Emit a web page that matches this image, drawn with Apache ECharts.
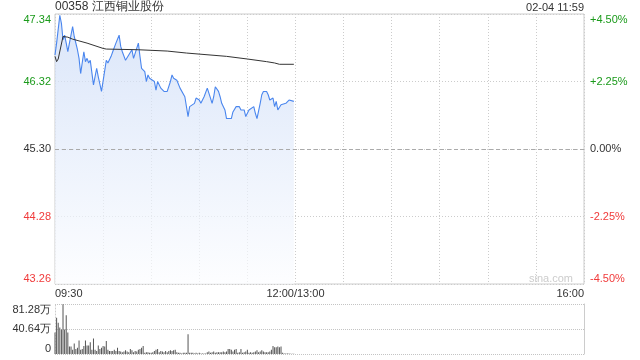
<!DOCTYPE html>
<html><head><meta charset="utf-8">
<script src="https://cdn.jsdelivr.net/npm/echarts@6/dist/echarts.min.js"></script>
<style>html,body{margin:0;padding:0;background:#fff}#c{width:640px;height:360px}</style>
</head><body><div id="c"></div>
<script>
const stockTitle = '00358 江西铜业股份';
const stampText = '02-04 11:59';
const watermark = 'sina.com';
const prevClose = 45.30;
const priceTicks = [43.26, 44.28, 45.30, 46.32, 47.34];
const pctTicks = [-4.5, -2.25, 0, 2.25, 4.5];
const volTicks = [0, 40.64, 81.28];
const volTickLabels = ['0', '40.64万', '81.28万'];
const timeTickPos = [0, 150, 330];
const timeTickLabels = ['09:30', '12:00/13:00', '16:00'];

const priceMinutes = [0,1,3,4,5,6,7,8,9,11,12,13,14,15,16,18,19,20,21,22,23,24,26,27,29,30,32,33,35,36,37,38,40,41,42,44,46,48,49,50,52,53,54,56,57,58,59,60,62,63,64,66,68,69,70,72,73,74,76,78,79,81,83,84,85,87,88,90,91,93,94,95,97,98,99,100,102,103,104,106,107,110,111,113,115,116,118,119,121,122,124,125,126,128,129,130,132,133,134,136,137,138,139,141,142,144,146,147,149];
const priceValues = [46.72,46.90,47.32,47.20,46.95,47.02,46.90,46.77,46.90,47.15,47.00,46.97,46.80,46.67,46.44,46.77,46.62,46.67,46.60,46.64,46.62,46.27,46.52,46.39,46.17,46.14,46.64,46.60,46.70,46.77,46.80,46.90,47.02,46.85,46.77,46.64,46.72,46.80,46.67,46.64,46.90,46.70,46.52,46.47,46.32,46.42,46.37,46.39,46.32,46.19,46.32,46.22,46.17,46.19,46.17,46.32,46.42,46.37,46.34,46.22,46.19,46.09,45.79,45.94,45.91,45.99,46.07,46.04,45.99,46.09,46.07,46.22,46.07,45.99,46.09,46.24,46.17,46.09,45.99,45.89,45.76,45.76,45.86,45.94,45.94,45.89,45.89,45.79,45.89,45.91,45.94,45.84,45.76,45.99,46.12,46.17,46.17,46.12,46.04,46.07,45.94,46.02,45.89,45.97,45.97,45.99,46.04,46.07,46.02];

const avgMinutes = [0,1,2,5,8,11,20,30,32,52,70,82,83,107,120,132,137,140,149];
const avgValues = [46.70,46.62,46.66,47.00,46.99,46.96,46.90,46.82,46.81,46.80,46.78,46.75,46.72,46.70,46.66,46.62,46.60,46.58,46.58];

const volumeValues = [35,59,51,43,40,81,40,63,35,12,12,7,17,8,10,22,7,8,13,22,14,14,19,7,25,7,5,14,8,10,13,12,21,7,5,5,5,7,5,10,5,4,3,4,6,4,3,8,6,3,5,4,7,8,10,13,2,3,3,2,2,3,5,7,8,3,5,4,3,5,3,5,6,5,6,7,3,2,2,1,2,2,2,32,2,2,2,1,2,1,2,1,1,1,1,3,4,2,3,4,2,3,3,3,3,4,3,4,8,8,7,4,7,8,2,3,8,2,3,4,7,2,3,2,3,4,6,3,4,6,4,3,3,3,4,7,13,11,11,12,11,12,2,1,1,1,1,0.5,0.5,0.5];

const GREEN = '#1a9a1a', RED = '#f03a3a', DARK = '#333';
const FONT = 'Liberation Sans, Arial, sans-serif';

const priceData = priceMinutes.map((m, i) => [m, priceValues[i]]);
const avgData = avgMinutes.map((m, i) => [m, avgValues[i]]);
const volData = volumeValues.map((v, i) => [i, v]);

const chart = echarts.init(document.getElementById('c'), null, {renderer: 'canvas'});
chart.setOption({
  animation: false,
  backgroundColor: '#fff',
  textStyle: {fontFamily: FONT},
  title: [
    {text: stockTitle, left: 50, top: -4, textStyle: {fontSize: 12, fontWeight: 'normal', color: DARK, fontFamily: FONT}},
    {text: stampText, right: 51, top: -3, textStyle: {fontSize: 11, fontWeight: 'normal', color: DARK, fontFamily: FONT}}
  ],
  graphic: [{type: 'text', right: 67, top: 273, style: {text: watermark, fill: '#cccccc', font: '11px ' + FONT}}],
  grid: [
    {left: 55, top: 14, width: 529, height: 270, show: true, borderColor: '#cccccc', borderWidth: 1},
    {left: 55, top: 304, width: 529, height: 50, show: false}
  ],
  xAxis: [
    {type: 'value', gridIndex: 0, min: 0, max: 330, interval: 30,
     axisLine: {show: false}, axisTick: {show: false},
     splitLine: {show: true, lineStyle: {color: '#cccccc', type: [1, 2]}},
     axisLabel: {show: true, margin: 4, fontSize: 11, color: DARK, fontFamily: FONT,
       alignMinLabel: 'left', alignMaxLabel: 'right',
       formatter: v => { const k = timeTickPos.indexOf(v); return k >= 0 ? timeTickLabels[k] : ''; }}},
    {type: 'value', gridIndex: 1, min: 0, max: 330, interval: 30,
     axisLine: {show: false}, axisTick: {show: false}, splitLine: {show: false}, axisLabel: {show: false}}
  ],
  yAxis: [
    {type: 'value', gridIndex: 0, min: priceTicks[0], max: priceTicks[4], interval: 1.02,
     axisLine: {show: false}, axisTick: {show: false},
     splitLine: {show: true, lineStyle: {color: '#cccccc', type: [1, 2]}},
     axisLabel: {margin: 4, fontSize: 11, fontFamily: FONT,
       verticalAlignMinLabel: 'bottom', verticalAlignMaxLabel: 'top',
       formatter: v => v.toFixed(2),
       color: v => (Math.abs(v - prevClose) < 0.005 ? DARK : (v > prevClose ? GREEN : RED))}},
    {type: 'value', gridIndex: 0, position: 'right', min: pctTicks[0], max: pctTicks[4], interval: 2.25,
     axisLine: {show: false}, axisTick: {show: false}, splitLine: {show: false},
     axisLabel: {margin: 6, fontSize: 11, fontFamily: FONT,
       verticalAlignMinLabel: 'bottom', verticalAlignMaxLabel: 'top',
       formatter: v => (v > 0 ? '+' : '') + v.toFixed(2) + '%',
       color: v => (Math.abs(v) < 0.001 ? DARK : (v > 0 ? GREEN : RED))}},
    {type: 'value', gridIndex: 1, min: volTicks[0], max: volTicks[2], interval: volTicks[1],
     axisLine: {show: true, lineStyle: {color: '#cccccc', type: [1, 2]}}, axisTick: {show: false},
     splitLine: {show: true, lineStyle: {color: '#c4c4c4', type: [1, 1]}},
     axisLabel: {margin: 4, fontSize: 11, color: DARK, fontFamily: FONT,
       verticalAlignMinLabel: 'bottom', verticalAlignMaxLabel: 'top',
       formatter: v => { const k = volTicks.findIndex(t => Math.abs(t - v) < 0.01); return k >= 0 ? volTickLabels[k] : ''; }}},
    {type: 'value', gridIndex: 1, position: 'right', min: volTicks[0], max: volTicks[2],
     axisLine: {show: true, lineStyle: {color: '#cccccc'}}, axisTick: {show: false},
     splitLine: {show: false}, axisLabel: {show: false}}
  ],
  series: [
    {type: 'line', xAxisIndex: 0, yAxisIndex: 0, data: priceData, symbol: 'none',
     lineStyle: {color: '#4a86ee', width: 1.1},
     areaStyle: {origin: 'start', color: new echarts.graphic.LinearGradient(0, 0, 0, 1, [
       {offset: 0, color: '#cbdbf7'}, {offset: 1, color: '#fcfdff'}])},
     markLine: {silent: true, symbol: 'none', label: {show: false},
       lineStyle: {color: '#aaaaaa', type: [4, 3], width: 1},
       data: [{yAxis: prevClose}]}},
    {type: 'line', xAxisIndex: 0, yAxisIndex: 0, data: avgData, symbol: 'none',
     lineStyle: {color: '#333333', width: 1}},
    {type: 'bar', xAxisIndex: 1, yAxisIndex: 2, data: volData, barWidth: 1,
     itemStyle: {color: '#555555'}}
  ]
});
</script></body></html>
